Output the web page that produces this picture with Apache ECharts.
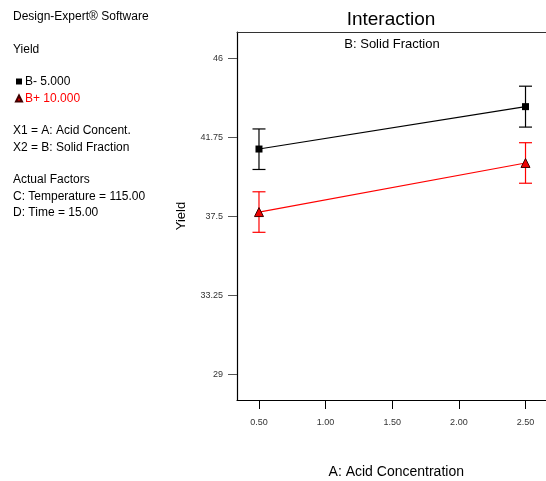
<!DOCTYPE html>
<html><head><meta charset="utf-8">
<script src="https://cdn.jsdelivr.net/npm/echarts@6/dist/echarts.min.js"></script>
<style>html,body{margin:0;padding:0;background:#fff}#c{width:546px;height:481px}</style>
</head><body><div id="c"></div>
<script>
const xLevels = [0.5, 2.5];
const seriesNames = ['B- 5.000', 'B+ 10.000'];
const lowMean = [41.12, 43.40];
const lowLo = [40.02, 42.30];
const lowHi = [42.20, 44.50];
const highMean = [37.73, 40.37];
const highLo = [36.64, 39.28];
const highHi = [38.82, 41.46];
const yTicks = [29, 33.25, 37.5, 41.75, 46];
const xTicks = [0.5, 1.0, 1.5, 2.0, 2.5];
const notes = [
  ['Design-Expert\u00ae Software', 17],
  ['Yield', 50],
  ['X1 = A: Acid Concent.', 131],
  ['X2 = B: Solid Fraction', 148],
  ['Actual Factors', 180],
  ['C: Temperature = 115.00', 197],
  ['D: Time = 15.00', 213]
];

const FONT = 'Liberation Sans, Arial, sans-serif';
const chart = echarts.init(document.getElementById('c'), null, {renderer: 'canvas'});

function errBar(color) {
  return function (params, api) {
    const x = api.value(0);
    const p1 = api.coord([x, api.value(1)]);
    const p2 = api.coord([x, api.value(2)]);
    const hw = 6.5;
    const st = {stroke: color, lineWidth: 1.2};
    return {type: 'group', children: [
      {type: 'line', shape: {x1: p1[0], y1: p1[1], x2: p2[0], y2: p2[1]}, style: st},
      {type: 'line', shape: {x1: p1[0]-hw, y1: p1[1], x2: p1[0]+hw, y2: p1[1]}, style: st},
      {type: 'line', shape: {x1: p2[0]-hw, y1: p2[1], x2: p2[0]+hw, y2: p2[1]}, style: st}
    ]};
  };
}

const graphics = notes.map(n => ({
  type: 'text', x: 13, y: n[1],
  style: {text: n[0], fontSize: 12, fontFamily: FONT, fill: '#000', textVerticalAlign: 'middle', verticalAlign: 'middle'}
}));
graphics.push({type: 'text', x: 392, y: 44,
  style: {text: 'B: Solid Fraction', fontSize: 13, fontFamily: FONT, fill: '#000', align: 'center', textAlign: 'center', verticalAlign: 'middle', textVerticalAlign: 'middle'}});
graphics.push({type: 'text', x: 391, y: 20,
  style: {text: 'Interaction', fontSize: 19, fontFamily: FONT, fill: '#000', align: 'center', textAlign: 'center', verticalAlign: 'middle', textVerticalAlign: 'middle'}});

chart.setOption({
  animation: false,
  legend: {
    orient: 'vertical', left: 15, top: 75, padding: 0, itemWidth: 6, itemHeight: 6, itemGap: 4,
    data: [
      {name: seriesNames[0], icon: 'rect', textStyle: {color: '#000'}},
      {name: seriesNames[1], icon: 'triangle', textStyle: {color: '#ff0000'}}
    ],
    textStyle: {fontSize: 12, fontFamily: FONT, padding: [0, 0, 0, -2], lineHeight: 13},
    selectedMode: false
  },
  graphic: graphics,
  grid: {left: 237, top: 32, width: 310.5, height: 368, outerBoundsMode: 'none', containLabel: false},
  xAxis: [{
    type: 'value', min: 0.335, max: 2.665,
    name: 'A: Acid Concentration', nameLocation: 'middle', nameGap: 65,
    nameTextStyle: {fontSize: 14, fontFamily: FONT, color: '#000', padding: [0, 0, 0, 8]},
    axisLine: {lineStyle: {color: '#000', width: 1.2}},
    axisTick: {customValues: xTicks, length: 9, lineStyle: {color: '#000'}},
    axisLabel: {customValues: xTicks, formatter: v => v.toFixed(2), fontSize: 9, fontFamily: FONT, color: '#333', margin: 18},
    splitLine: {show: false}
  }, {
    type: 'value', position: 'top', min: 0.335, max: 2.665,
    axisLine: {show: true, lineStyle: {color: '#333', width: 1}},
    axisTick: {show: false}, axisLabel: {show: false}, splitLine: {show: false}
  }],
  yAxis: {
    type: 'value', min: 27.62, max: 47.415,
    name: 'Yield', nameLocation: 'middle', nameGap: 49, nameRotate: 90,
    nameTextStyle: {fontSize: 13, fontFamily: FONT, color: '#000'},
    axisLine: {show: true, lineStyle: {color: '#000', width: 1.2}},
    axisTick: {show: true, customValues: yTicks, length: 9, lineStyle: {color: '#555'}},
    axisLabel: {customValues: yTicks, fontSize: 9, fontFamily: FONT, color: '#333', margin: 14},
    splitLine: {show: false}
  },
  series: [
    {name: seriesNames[0], type: 'line', data: xLevels.map((x, i) => [x, lowMean[i]]),
      symbol: 'rect', symbolSize: 7, z: 5,
      lineStyle: {color: '#000', width: 1.2}, itemStyle: {color: '#000'}},
    {name: seriesNames[1], type: 'line', data: xLevels.map((x, i) => [x, highMean[i]]),
      symbol: 'triangle', symbolSize: 9, z: 5,
      lineStyle: {color: '#ff0000', width: 1.2}, itemStyle: {color: '#ee0000', borderColor: '#400000', borderWidth: 1}},
    {type: 'custom', data: xLevels.map((x, i) => [x, lowLo[i], lowHi[i]]), renderItem: errBar('#000'), z: 3},
    {type: 'custom', data: xLevels.map((x, i) => [x, highLo[i], highHi[i]]), renderItem: errBar('#ff0000'), z: 3}
  ]
});
</script></body></html>
